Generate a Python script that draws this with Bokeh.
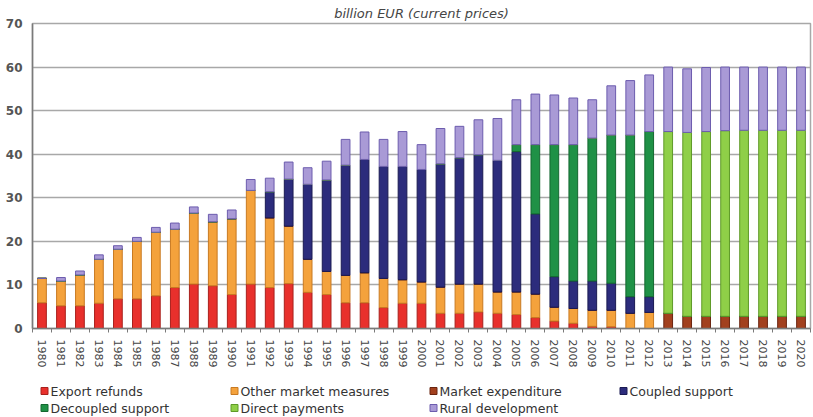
from bokeh.plotting import figure
from bokeh.models import ColumnDataSource, Range1d, FixedTicker
from bokeh.layouts import column
from bokeh.embed import file_html
from bokeh.resources import INLINE
from bokeh.core.properties import value

years = [1980, 1981, 1982, 1983, 1984, 1985, 1986, 1987, 1988, 1989,
         1990, 1991, 1992, 1993, 1994, 1995, 1996, 1997, 1998, 1999,
         2000, 2001, 2002, 2003, 2004, 2005, 2006, 2007, 2008, 2009,
         2010, 2011, 2012, 2013, 2014, 2015, 2016, 2017, 2018, 2019, 2020]

series_names = ["Export refunds", "Other market measures", "Market expenditure",
                "Coupled support", "Decoupled support", "Direct payments",
                "Rural development"]

export_refunds = [5.9, 5.2, 5.2, 5.8, 6.8, 6.8, 7.5, 9.4, 10.2, 9.8,
                  7.8, 10.2, 9.4, 10.3, 8.3, 7.8, 5.9, 5.9, 4.8, 5.8,
                  5.8, 3.5, 3.5, 3.8, 3.5, 3.2, 2.5, 1.7, 1.2, 0.5,
                  0.4, 0.0, 0.0, 0.0, 0.0, 0.0, 0.0, 0.0, 0.0, 0.0, 0.0]
other_market = [5.6, 5.7, 7.1, 10.1, 11.4, 13.2, 14.6, 13.4, 16.3, 14.7,
                17.4, 21.5, 16.0, 13.2, 7.6, 5.3, 6.3, 6.9, 6.7, 5.4,
                4.9, 6.0, 6.7, 6.4, 4.9, 5.2, 5.4, 3.2, 3.4, 3.7,
                3.8, 3.5, 3.7, 0.0, 0.0, 0.0, 0.0, 0.0, 0.0, 0.0, 0.0]
market_expenditure = [0.0] * 33 + [3.5, 2.8, 2.8, 2.8, 2.8, 2.8, 2.8, 2.8]
coupled = [0.0, 0.0, 0.0, 0.0, 0.0, 0.0, 0.0, 0.0, 0.0, 0.0,
           0.0, 0.0, 6.0, 10.8, 17.2, 21.0, 25.3, 26.0, 25.7, 26.0,
           25.8, 28.3, 29.0, 29.7, 30.2, 32.2, 18.4, 7.0, 6.3, 6.7,
           6.2, 3.8, 3.6, 0.0, 0.0, 0.0, 0.0, 0.0, 0.0, 0.0, 0.0]
decoupled = [0.0] * 25 + [1.6, 15.9, 30.3, 31.3, 32.8, 34.0, 37.1, 37.9,
                          0.0, 0.0, 0.0, 0.0, 0.0, 0.0, 0.0, 0.0]
direct_payments = [0.0] * 33 + [41.7, 42.2, 42.4, 42.6, 42.7, 42.7, 42.7, 42.7]
rural_dev = [0.0, 0.8, 0.9, 1.0, 0.8, 0.9, 1.1, 1.4, 1.4, 1.7,
             2.0, 2.5, 3.1, 3.9, 3.8, 4.3, 5.9, 6.3, 6.2, 8.0,
             5.7, 8.1, 7.2, 8.0, 9.6, 10.3, 11.6, 11.4, 10.7, 8.8,
             11.3, 12.5, 13.0, 14.8, 14.6, 14.7, 14.6, 14.5, 14.5, 14.5, 14.5]

y_ticks = [0, 10, 20, 30, 40, 50, 60, 70]

fill_colors = ["#e8302c", "#f4a23c", "#a2401e", "#2c2c7c", "#1f9146", "#8fcf48", "#a99ad6"]
line_colors = ["#a8201c", "#c87a22", "#6a2410", "#1a1a52", "#146830", "#5f9a28", "#6c5cae"]

keys = ["export", "other", "market", "coupled", "decoupled", "direct", "rural"]
source = ColumnDataSource(dict(year=years, export=export_refunds, other=other_market,
                               market=market_expenditure, coupled=coupled,
                               decoupled=decoupled, direct=direct_payments,
                               rural=rural_dev))

FONT = "DejaVu Sans"
W = 812
ML, MR = 32, 2
MAIN_H = 370

p = figure(width=W, height=MAIN_H, output_backend="svg", toolbar_location=None,
           x_range=Range1d(1979.5, 2020.5), y_range=Range1d(0, 70),
           min_border_left=ML, min_border_right=MR, min_border_top=0,
           min_border_bottom=0)

p.title.text = "billion EUR (current prices)"
p.title.align = "center"
p.title.text_font = FONT
p.title.text_font_style = "italic"
p.title.text_font_size = "13px"
p.title.text_color = "#454545"
p.title.standoff = 6

p.vbar_stack(keys, x="year", width=0.46, source=source,
             fill_color=fill_colors, line_color=line_colors, line_width=1)

p.outline_line_color = "#a8a8a8"
p.outline_line_width = 1.5

p.xgrid.grid_line_color = None
p.ygrid.grid_line_color = "#a8a8a8"
p.ygrid.grid_line_width = 1.5
p.ygrid.ticker = FixedTicker(ticks=y_ticks)

p.yaxis.ticker = FixedTicker(ticks=y_ticks)
p.yaxis.axis_line_color = "#7a7a7a"
p.yaxis.axis_line_width = 1.5
p.yaxis.major_tick_out = 0
p.yaxis.major_tick_in = 0
p.yaxis.minor_tick_out = 0
p.yaxis.major_label_standoff = 10
p.yaxis.major_label_text_font = FONT
p.yaxis.major_label_text_font_size = "12px"
p.yaxis.major_label_text_font_style = "bold"
p.yaxis.major_label_text_color = "#555555"

boundaries = [y - 0.5 for y in years] + [years[-1] + 0.5]
p.xaxis.ticker = FixedTicker(ticks=years, minor_ticks=boundaries)
p.xaxis.major_label_orientation = "vertical"
p.xaxis.axis_line_color = "#7a7a7a"
p.xaxis.axis_line_width = 1.5
p.xaxis.major_tick_out = 0
p.xaxis.major_tick_in = 0
p.xaxis.minor_tick_out = 4
p.xaxis.minor_tick_in = 0
p.xaxis.minor_tick_line_color = "#7a7a7a"
p.xaxis.major_label_standoff = 7
p.xaxis.major_label_text_font = FONT
p.xaxis.major_label_text_font_size = "11px"
p.xaxis.major_label_text_color = "#454545"

# legend drawn in its own small figure; its frame spans the same pixels as the
# main frame, so the x range is set to page pixel coordinates of that frame
LEG_H = 46
leg = figure(width=W, height=LEG_H, output_backend="svg", toolbar_location=None,
             x_range=Range1d(ML, W - MR), y_range=Range1d(0, LEG_H),
             min_border_left=ML, min_border_right=MR, min_border_top=0,
             min_border_bottom=0)
leg.axis.visible = False
leg.grid.visible = False
leg.outline_line_color = None

col_x = [44, 234, 433, 623]
row_y = [LEG_H - (390.5 - MAIN_H), LEG_H - (407.5 - MAIN_H)]
lx, ly = [], []
for i in range(len(series_names)):
    lx.append(col_x[i % 4])
    ly.append(row_y[i // 4])
leg_src = ColumnDataSource(dict(x=lx, y=ly, name=series_names,
                                fill=fill_colors, line=line_colors,
                                tx=[v + 6 for v in lx]))
leg.scatter(x="x", y="y", marker="square", size=7, fill_color="fill",
            line_color="line", line_width=1, source=leg_src)
leg.text(x="tx", y="y", text="name", source=leg_src, text_font=value(FONT),
         text_font_size="12.5px", text_color="#333333", text_baseline="middle")

layout = column(p, leg, spacing=0)
open("out.html", "w").write(file_html(layout, INLINE))
